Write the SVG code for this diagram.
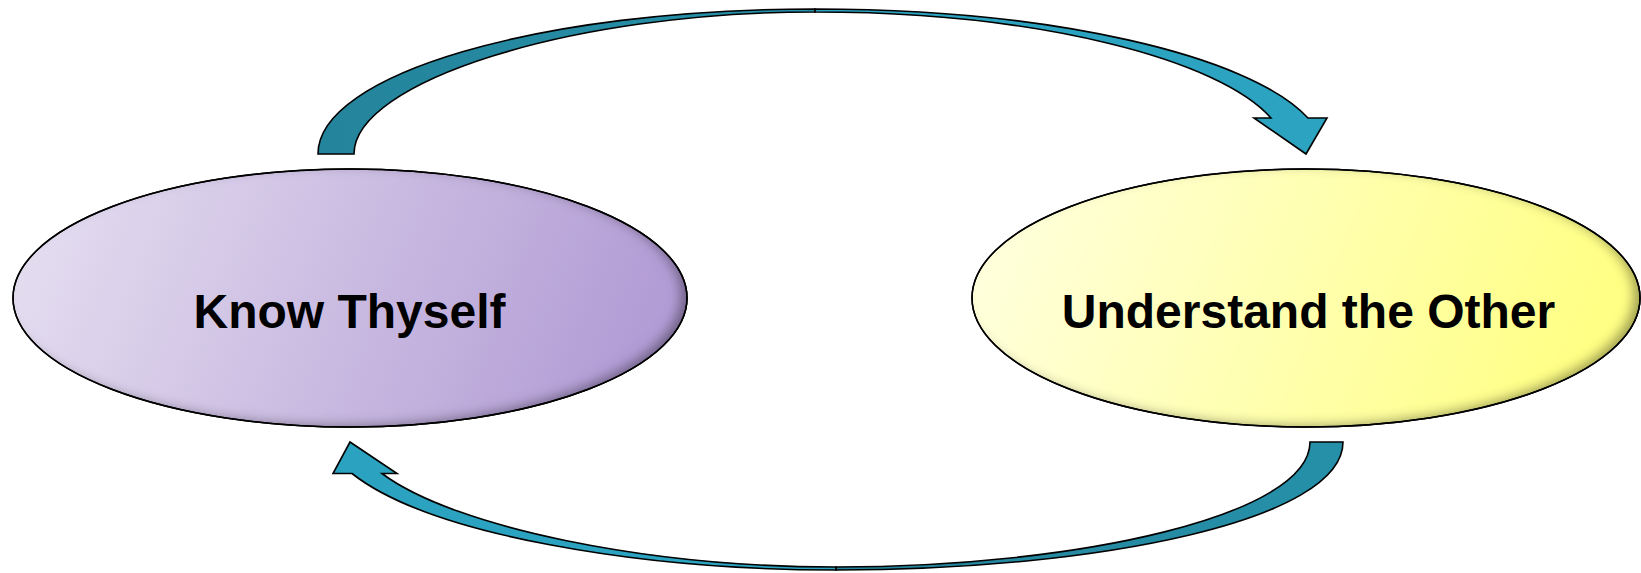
<svg xmlns="http://www.w3.org/2000/svg" width="1641" height="573" viewBox="0 0 1641 573">
<style>
.lbl{font-family:"Liberation Sans",Arial,sans-serif;font-weight:bold;font-size:48px;fill:#000;text-anchor:middle}
.node{stroke:#000;stroke-width:1.5}
.dark{fill:url(#gDark);stroke:#000;stroke-width:1.6;stroke-linejoin:miter}
.light{fill:url(#gLight);stroke:#000;stroke-width:1.6;stroke-linejoin:miter}
</style>
<defs>
<linearGradient id="gPurple" x1="0" y1="0" x2="1" y2="0.15">
<stop offset="0" stop-color="#E7E1F1"/>
<stop offset="1" stop-color="#B39DD5"/>
</linearGradient>
<linearGradient id="gYellow" x1="0" y1="0" x2="1" y2="0.15">
<stop offset="0" stop-color="#FFFFE2"/>
<stop offset="1" stop-color="#FFFF85"/>
</linearGradient>
<linearGradient id="gDark" x1="0" y1="0" x2="1" y2="0">
<stop offset="0" stop-color="#24849B"/>
<stop offset="1" stop-color="#2690A9"/>
</linearGradient>
<linearGradient id="gLight" x1="0" y1="0" x2="1" y2="0">
<stop offset="0" stop-color="#2BA2BF"/>
<stop offset="1" stop-color="#2CA4C1"/>
</linearGradient>
<filter id="inset" x="-5%" y="-10%" width="110%" height="120%">
<feComponentTransfer in="SourceAlpha" result="inv"><feFuncA type="table" tableValues="1 0"/></feComponentTransfer>
<feGaussianBlur in="inv" stdDeviation="6" result="bl"/>
<feOffset in="bl" dx="-8" dy="-3" result="off"/>
<feFlood flood-color="#000" flood-opacity="0.65"/>
<feComposite in2="off" operator="in" result="sh"/>
<feComposite in="sh" in2="SourceAlpha" operator="in" result="ish"/>
<feMerge><feMergeNode in="SourceGraphic"/><feMergeNode in="ish"/></feMerge>
</filter>
</defs>

<g id="connectors">
<g id="arrow-top">
<path class="dark" d="M318,154 C318,74 540,9 815,9 L815,12 C570,12 354,82 354,154 Z"/>
<path class="light" d="M815,9 C1050,9 1250,55 1308,118 L1327,118 L1306,154 L1254,118 L1271,118 C1220,60 1040,12 815,12 Z"/>
</g>
<g id="arrow-bottom">
<path class="dark" d="M1343,442 C1343,520 1100,570 836,570 L836,567 C1080,567 1310,515 1310,442 Z"/>
<path class="light" d="M836,570 C640,570 430,535 352,473.5 L333,473.5 L350,442 L397,473.5 L382,473.5 C455,528 650,567 836,567 Z"/>
</g>
</g>

<g id="node-know-thyself">
<ellipse class="node" cx="350" cy="298" rx="337" ry="129" fill="url(#gPurple)" filter="url(#inset)"/>
<ellipse cx="350" cy="298" rx="337" ry="129" fill="none" stroke="#000" stroke-width="1.5"/>
<text class="lbl" x="349.5" y="328">Know Thyself</text>
</g>

<g id="node-understand-other">
<ellipse class="node" cx="1306" cy="298" rx="334" ry="129" fill="url(#gYellow)" filter="url(#inset)"/>
<ellipse cx="1306" cy="298" rx="334" ry="129" fill="none" stroke="#000" stroke-width="1.5"/>
<text class="lbl" x="1308.5" y="328">Understand the Other</text>
</g>
</svg>
